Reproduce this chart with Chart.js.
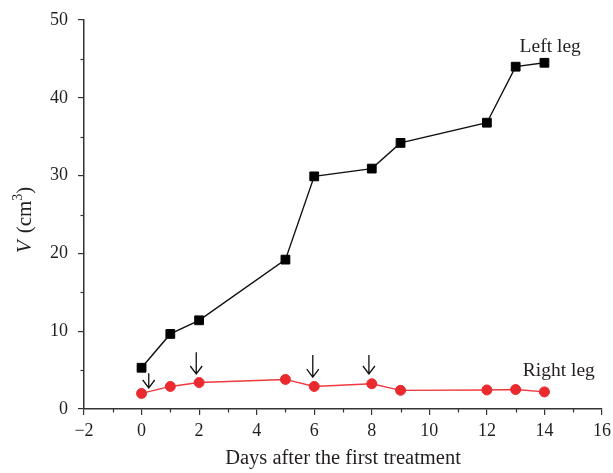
<!DOCTYPE html>
<html>
<head>
<meta charset="utf-8">
<script src="https://cdn.jsdelivr.net/npm/chart.js@4/dist/chart.umd.min.js"></script>
<style>
html,body{margin:0;padding:0;background:#fff;}
#c{display:block;}
</style>
</head>
<body>
<canvas id="c" width="613" height="473"></canvas>
<script>
// ---- data ----
const days = [0, 1, 2, 5, 6, 8, 9, 12, 13, 14];
const leftLeg = [5.3, 9.65, 11.4, 19.2, 29.9, 30.9, 34.2, 36.8, 44.0, 44.5];
const rightLeg = [2.0, 2.9, 3.4, 3.8, 2.9, 3.25, 2.4, 2.45, 2.5, 2.2];
const seriesNames = ['Left leg', 'Right leg'];
// treatment arrows (day, top value, tip value)
const arrowDays = [0.25, 1.9, 5.95, 7.9];
const arrowTop = [4.6, 7.3, 6.95, 6.95];
const arrowTip = [2.7, 4.5, 4.1, 4.5];
// x ticks / y ticks
const xMin = -2, xMax = 16, xStep = 2;
const yMin = 0, yMax = 50, yStep = 10;
const xTitle = 'Days after the first treatment';

const FONT = '"Liberation Serif", "Times New Roman", serif';
const INK = '#231f20';

const toPts = (xs, ys) => xs.map((x, i) => ({x: x, y: ys[i]}));

const decor = {
  id: 'decor',
  afterDraw(chart) {
    const ctx = chart.ctx;
    const xs = chart.scales.x, ys = chart.scales.y;
    const ca = chart.chartArea;
    ctx.save();
    // minor ticks
    ctx.strokeStyle = '#333';
    ctx.lineWidth = 1.2;
    for (let v = xMin + 1; v < xMax; v += 2) {
      const px = Math.round(xs.getPixelForValue(v)) + 0.5;
      ctx.beginPath(); ctx.moveTo(px, ca.bottom); ctx.lineTo(px, ca.bottom + 3.5); ctx.stroke();
    }
    for (let v = yMin + 5; v < yMax; v += 10) {
      const py = Math.round(ys.getPixelForValue(v)) + 0.5;
      ctx.beginPath(); ctx.moveTo(ca.left, py); ctx.lineTo(ca.left - 3.5, py); ctx.stroke();
    }
    // arrows
    ctx.strokeStyle = '#111';
    ctx.lineWidth = 1.3;
    arrowDays.forEach((d, i) => {
      const px = xs.getPixelForValue(d);
      const pt = ys.getPixelForValue(arrowTop[i]);
      const pb = ys.getPixelForValue(arrowTip[i]);
      ctx.beginPath();
      ctx.moveTo(px, pt); ctx.lineTo(px, pb);
      ctx.moveTo(px - 6, pb - 8); ctx.lineTo(px, pb); ctx.lineTo(px + 6, pb - 8);
      ctx.stroke();
    });
    // series labels
    ctx.fillStyle = INK;
    ctx.font = '19.5px ' + FONT;
    ctx.textAlign = 'center';
    ctx.textBaseline = 'middle';
    ctx.fillText(seriesNames[0], xs.getPixelForValue(14.2), ys.getPixelForValue(46.5));
    ctx.fillText(seriesNames[1], xs.getPixelForValue(14.5), ys.getPixelForValue(4.9));
    // y title: V (cm3)
    ctx.translate(24, 220);
    ctx.rotate(-Math.PI / 2);
    const p1 = 'V', p2 = ' (cm', p3 = '3', p4 = ')';
    ctx.textAlign = 'left';
    ctx.textBaseline = 'alphabetic';
    ctx.font = 'italic 21px ' + FONT; const w1 = ctx.measureText(p1).width;
    ctx.font = '21px ' + FONT; const w2 = ctx.measureText(p2).width; const w4 = ctx.measureText(p4).width;
    ctx.font = '14px ' + FONT; const w3 = ctx.measureText(p3).width;
    let x0 = -(w1 + w2 + w3 + w4 + 2) / 2;
    const base = 7;
    ctx.font = 'italic 21px ' + FONT; ctx.fillText(p1, x0, base); x0 += w1 + 2;
    ctx.font = '21px ' + FONT; ctx.fillText(p2, x0, base); x0 += w2;
    ctx.font = '14px ' + FONT; ctx.fillText(p3, x0, base - 9); x0 += w3;
    ctx.font = '21px ' + FONT; ctx.fillText(p4, x0, base);
    ctx.restore();
  }
};

new Chart(document.getElementById('c'), {
  type: 'scatter',
  data: {
    datasets: [
      {
        label: seriesNames[0],
        data: toPts(days, leftLeg),
        showLine: true,
        borderColor: '#111',
        borderWidth: 1.4,
        pointStyle: 'rect',
        pointRadius: 6.2,
        pointBackgroundColor: '#000',
        pointBorderColor: '#000',
        pointBorderWidth: 1,
        pointHoverRadius: 6.2
      },
      {
        label: seriesNames[1],
        data: toPts(days, rightLeg),
        showLine: true,
        borderColor: '#ee3a3e',
        borderWidth: 1.4,
        pointStyle: 'circle',
        pointRadius: 5,
        pointBackgroundColor: '#ea2a2e',
        pointBorderColor: '#ea2a2e',
        pointBorderWidth: 1,
        pointHoverRadius: 5
      }
    ]
  },
  options: {
    responsive: false,
    animation: false,
    events: [],
    layout: {padding: {left: 0, top: 20, right: 11, bottom: 0}},
    plugins: {legend: {display: false}, tooltip: {enabled: false}},
    scales: {
      x: {
        type: 'linear',
        min: xMin, max: xMax,
        ticks: {stepSize: xStep, font: {family: FONT, size: 18}, color: INK, padding: 5,
          callback: v => (v < 0 ? '\u2212' + Math.abs(v) : String(v))},
        grid: {drawOnChartArea: false, drawTicks: true, tickLength: 6, color: '#333', lineWidth: 1.2},
        border: {display: true, color: '#333', width: 1.5},
        title: {display: true, text: xTitle, font: {family: FONT, size: 20.5}, color: INK, padding: {top: 0, bottom: 2}},
        afterFit: s => { s.height = 64; s.paddingRight = 0; s.paddingLeft = 0; }
      },
      y: {
        type: 'linear',
        min: yMin, max: yMax,
        ticks: {stepSize: yStep, font: {family: FONT, size: 18}, color: INK, padding: 10},
        grid: {drawOnChartArea: false, drawTicks: true, tickLength: 6, color: '#333', lineWidth: 1.2},
        border: {display: true, color: '#333', width: 1.5},
        afterFit: s => { s.width = 84; s.paddingTop = 0; s.paddingBottom = 0; }
      }
    }
  },
  plugins: [decor]
});
</script>
</body>
</html>
